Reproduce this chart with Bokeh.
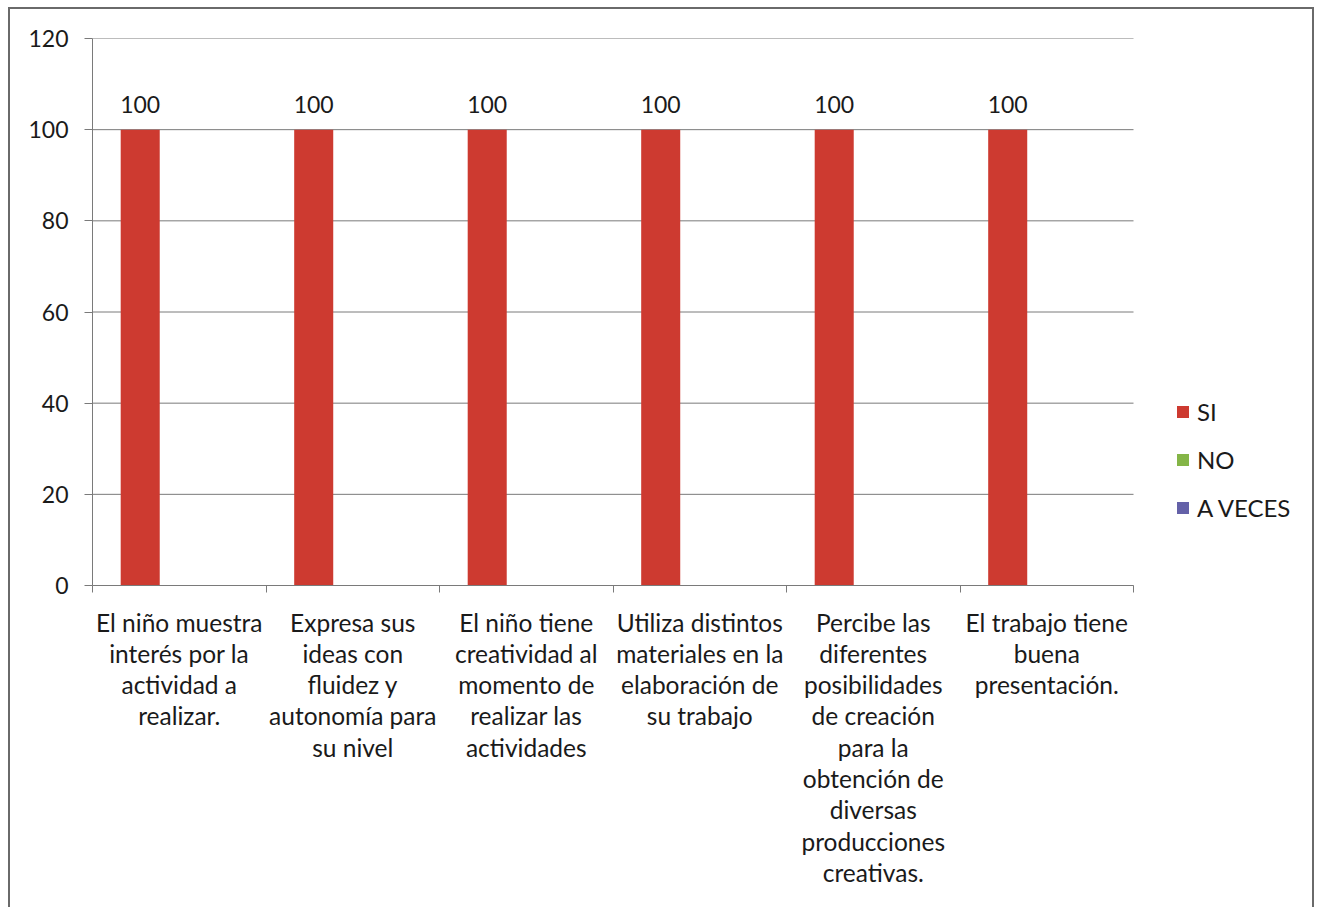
import numpy as np
from bokeh.plotting import figure
from bokeh.models import (Range1d, FixedTicker, ColumnDataSource, LabelSet,
                          Legend, LegendItem)
from bokeh.core.properties import value
from bokeh.embed import file_html
from bokeh.resources import INLINE

categories = [
    "El niño muestra interés por la actividad a realizar.",
    "Expresa sus ideas con fluidez y autonomía para su nivel",
    "El niño tiene creatividad al momento de realizar las actividades",
    "Utiliza distintos materiales en la elaboración de su trabajo",
    "Percibe las diferentes posibilidades de creación para la obtención de diversas producciones creativas.",
    "El trabajo tiene buena presentación.",
]
tick_labels = [
    "El niño muestra\ninterés por la\nactividad a\nrealizar.",
    "Expresa sus\nideas con\nfluidez y\nautonomía para\nsu nivel",
    "El niño tiene\ncreatividad al\nmomento de\nrealizar las\nactividades",
    "Utiliza distintos\nmateriales en la\nelaboración de\nsu trabajo",
    "Percibe las\ndiferentes\nposibilidades\nde creación\npara la\nobtención de\ndiversas\nproducciones\ncreativas.",
    "El trabajo tiene\nbuena\npresentación.",
]
series_names = ["SI", "NO", "A VECES"]
si = [100, 100, 100, 100, 100, 100]
no = [0, 0, 0, 0, 0, 0]
a_veces = [0, 0, 0, 0, 0, 0]
y_ticks = [0, 20, 40, 60, 80, 100, 120]
colors = ["#CD3A30", "#84B547", "#6461A8"]

FONT = "Lato"
TEXT = "#1a1a1a"
GRID = "#7a7a7a"

# layout (pixels)
FIG_W, FIG_H = 1302, 898
LEFT, TOP = 82, 29
PLOT_W, PLOT_H = 1041, 547          # width of the category area / frame height
FRAME_W = FIG_W - LEFT               # frame reaches the right edge (legend lives inside)

n = len(categories)
centers = np.arange(n) + 0.5
bar_w = 0.225
offsets = [-bar_w, 0.0, bar_w]
x_end = n * FRAME_W / PLOT_W

p = figure(width=FIG_W, height=FIG_H, output_backend="svg", toolbar_location=None,
           x_range=Range1d(0, x_end), y_range=Range1d(0, y_ticks[-1]),
           min_border_left=LEFT, min_border_top=TOP, min_border_right=0,
           min_border_bottom=FIG_H - TOP - PLOT_H, tools="")
p.outline_line_color = None
p.background_fill_color = "white"
p.border_fill_color = "white"
p.styles = {"outline": "2px solid #6a6a6a", "outline-offset": "0px",
            "margin-left": "10px", "margin-top": "9px"}

# horizontal gridlines limited to the category area
p.xgrid.visible = False
p.ygrid.visible = False
p.segment(x0=0, x1=n, y0=y_ticks, y1=y_ticks, line_color=GRID, line_width=1)

renderers = []
for name, vals, off, col in zip(series_names, [si, no, a_veces], offsets, colors):
    src = ColumnDataSource(dict(x=centers + off, top=vals))
    r = p.vbar(x="x", top="top", bottom=0, width=bar_w, source=src,
               fill_color=col, line_color=None)
    renderers.append(r)

lab_src = ColumnDataSource(dict(x=centers + offsets[0], y=si, t=[str(v) for v in si]))
p.add_layout(LabelSet(x="x", y="y", text="t", source=lab_src, text_align="center",
                      text_baseline="alphabetic", y_offset=17, text_font=value(FONT),
                      text_font_size="23px", text_color=TEXT))

# x axis
p.xaxis.bounds = (0, n)
p.xaxis.ticker = FixedTicker(ticks=list(centers), minor_ticks=list(np.arange(n + 1)))
p.xaxis.major_label_overrides = {float(c): t for c, t in zip(centers, tick_labels)}
p.xaxis.major_tick_out = 0
p.xaxis.major_tick_in = 0
p.xaxis.minor_tick_out = 7
p.xaxis.minor_tick_in = 0
p.xaxis.minor_tick_line_color = GRID
p.xaxis.axis_line_color = GRID
p.xaxis.major_label_standoff = 15
p.xaxis.major_label_text_font = FONT
p.xaxis.major_label_text_font_size = "24.5px"
p.xaxis.major_label_text_color = TEXT
p.xaxis.major_label_text_line_height = 1.08
p.xaxis.major_label_orientation = "horizontal"

# y axis
p.yaxis.ticker = FixedTicker(ticks=y_ticks, minor_ticks=[])
p.yaxis.major_tick_out = 8
p.yaxis.major_tick_in = 0
p.yaxis.major_tick_line_color = GRID
p.yaxis.axis_line_color = GRID
p.yaxis.major_label_standoff = 16
p.yaxis.major_label_text_font = FONT
p.yaxis.major_label_text_font_size = "23px"
p.yaxis.major_label_text_color = TEXT

legend = Legend(items=[LegendItem(label=nm, renderers=[r]) for nm, r in zip(series_names, renderers)],
                location=(PLOT_W + 42, 63), orientation="vertical",
                glyph_width=15, glyph_height=15, label_height=20, spacing=19,
                label_standoff=7, padding=0, margin=0,
                label_text_font=FONT, label_text_font_size="24px", label_text_color=TEXT,
                border_line_color=None, background_fill_alpha=0)
p.add_layout(legend, "center")

open("out.html", "w").write(file_html(p, INLINE))
